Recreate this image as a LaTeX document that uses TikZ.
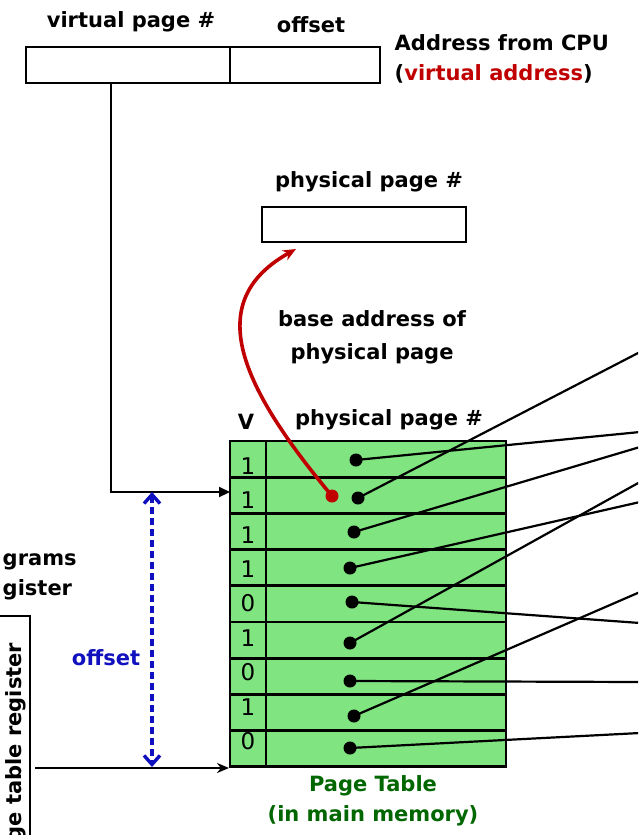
\documentclass[tikz,border=0pt]{standalone}
\usepackage{fontspec}
\setmainfont{DejaVu Sans}
\usetikzlibrary{arrows.meta}
\definecolor{ptgreen}{RGB}{128,228,128}
\definecolor{vared}{RGB}{192,0,0}
\definecolor{offblue}{RGB}{16,16,190}
\definecolor{ptdark}{RGB}{0,102,0}
\tikzset{
  lbl/.style={font=\fontsize{21}{30}\selectfont\bfseries},
  bit/.style={font=\fontsize{23}{26}\selectfont},
  ptr/.style={line width=2.2pt},
  dot/.style={circle,fill=black,inner sep=0pt,minimum size=13pt}
}
\begin{document}
\begin{tikzpicture}[x=1pt,y=-1pt,line width=2.8pt]
    \useasboundingbox (0,0) rectangle (638,835);
    \clip (0,0) rectangle (638,835);

    \node[lbl] (vpnlbl) at (131,22) {virtual page \#};
    \node[lbl] (offlbl) at (311,25) {offset};
    \draw (26,47) rectangle node (vpn) {} (230,83);
    \draw (230,47) rectangle node (voff) {} (380,83);
    \node[lbl,align=left,anchor=west] (cpu) at (390,59) {Address from CPU\\(\textcolor{vared}{virtual address})};

    \node[lbl] (pplbl) at (369,182) {physical page \#};
    \draw (262,207) rectangle node (ppn) {} (466,242);
    \node[lbl,align=center,font=\fontsize{21}{33}\selectfont\bfseries] (base) at (372,337) {base address of\\physical page};

    \node[lbl] (vlbl) at (246,422) {V};
    \node[lbl] (tpplbl) at (389,420) {physical page \#};

    \foreach \i\v in {0/1,1/1,2/1,3/1,4/0,5/1,6/0,7/1,8/0}{
      \draw[fill=ptgreen] (230,{441+36.2*\i}) rectangle (266,{441+36.2*(\i+1)});
      \draw[fill=ptgreen] (266,{441+36.2*\i}) rectangle node (r\i) {} (506,{441+36.2*(\i+1)});
      \node[bit] (v\i) at (248,{466+34.4*\i}) {\v};
    }

    \node[lbl,text=ptdark,align=center] (ptlbl) at (373,801) {Page Table\\(in main memory)};

    \coordinate (vtap) at (111,83);
    \coordinate (tin) at (230,492);
    \draw[ptr,-{Triangle[length=11pt,width=10pt]}] (vtap) |- (tin);

    \node[lbl,align=left,anchor=west] (prog) at (-2,577) {grams\\gister};
    \draw (-10,616) -| (30,845);
    \node[lbl,rotate=90,anchor=base east] (ptreg) at (21,638) {page table register};
    \coordinate (regout) at (35,768);
    \coordinate (tbase) at (229,768);
    \draw[ptr,-{Stealth[length=12pt,width=10pt]}] (regout) -- (tbase);

    \coordinate (offtop) at (152,492);
    \coordinate (offbot) at (152,767);
    \draw[offblue,line width=3.4pt,dash pattern=on 7pt off 4pt,
      {Straight Barb[length=9pt,width=16pt]}-{Straight Barb[length=9pt,width=16pt]}] (offtop) -- (offbot);
    \node[lbl,text=offblue] (offval) at (106,658) {offset};

    \foreach \n\x\y\e in {1/356/460/432,2/358/498/352,3/354/532/447,4/350/568/502,
        5/352/602/623,6/350/643/482,7/350/681/682,8/354/716/592,9/350/748/733}{
      \node[dot] (d\n) at (\x,\y) {};
      \coordinate (e\n) at (640,\e);
      \draw[ptr] (d\n.center) -- (e\n);
    }

    \node[dot,fill=vared] (rd) at (332,496) {};
    \coordinate (rtip) at (296,249);
    \draw[vared,line width=3.6pt,-{Stealth[length=13pt,width=11pt]}]
      (rd.center) .. controls (235,380) and (205,300) .. (rtip);
\end{tikzpicture}
\end{document}
